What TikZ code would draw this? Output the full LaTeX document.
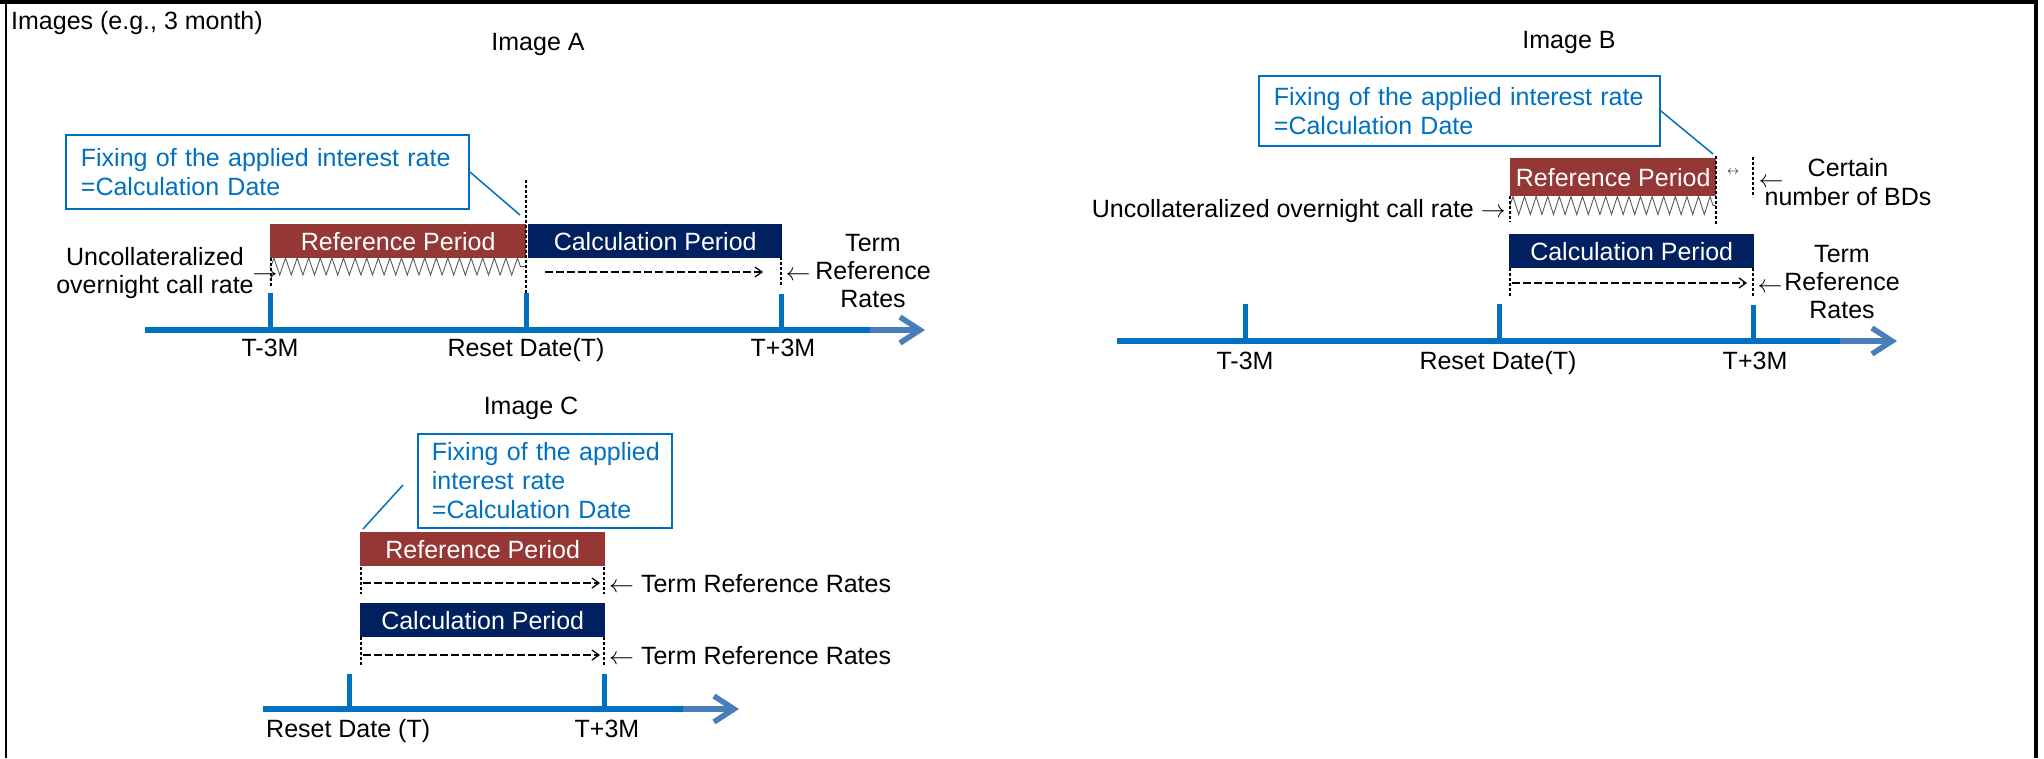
\documentclass[tikz,border=0pt]{standalone}
\usepackage{fontspec}
\setmainfont{Liberation Sans}
\usetikzlibrary{arrows.meta,decorations.pathmorphing}
\definecolor{refred}{RGB}{149,55,53}
\definecolor{calnavy}{RGB}{0,32,96}
\definecolor{fixblue}{RGB}{0,112,192}
\definecolor{axisblue}{RGB}{0,112,192}
\definecolor{headblue}{RGB}{74,126,187}
\definecolor{zigzaggray}{RGB}{90,90,90}
\begin{document}
\begin{tikzpicture}[x=1pt,y=-1pt,
  every node/.style={font=\fontsize{25}{28}\selectfont, inner sep=0pt},
  lbl/.style={anchor=base, text=black},
  period/.style={minimum height=34pt, text=white, anchor=north west, inner sep=0pt},
  refbox/.style={period, fill=refred},
  calbox/.style={period, fill=calnavy},
  callout/.style={draw=fixblue, line width=1.8pt, text=fixblue, align=left, anchor=north west, inner xsep=15pt, inner ysep=0pt, font=\fontsize{25}{29}\selectfont},
  leader/.style={draw=fixblue, line width=1.5pt},
  vdash/.style={draw=black, line width=1.5pt, dash pattern=on 3pt off 2pt},
  harrow/.style={draw=black, line width=1.3pt, dash pattern=on 8pt off 3pt, -{Straight Barb[length=7pt,width=10pt]}},
  zz/.style={draw=zigzaggray, line width=0.9pt, decorate, decoration={zigzag, segment length=11.6pt, amplitude=8.5pt}},
  axisline/.style={draw=axisblue, line width=5.5pt},
  axishead/.style={draw=headblue, line width=5.5pt, -{Straight Barb[length=20pt,width=26pt]}},
  tickmark/.style={draw=axisblue, line width=5pt}
]
\useasboundingbox (0,0) rectangle (2044,758);
% frame
\draw[line width=3.5pt] (0,2) -- (2038,2);
\draw[line width=2.2pt] (5.6,0) -- (5.6,758);
\draw[line width=4pt] (2036,0) -- (2036,758);
\draw[line width=2pt] (344.5,0) -- (344.5,3);
\draw[line width=2pt] (1021,0) -- (1021,3);

\node[lbl, anchor=base west] (imgs) at (11,29) {Images (e.g., 3 month)};

% ---------------- Image A
\node[lbl] (titleA) at (538,50) {Image A};
\node[callout, text width=373pt, minimum height=74pt] (fixA) at (65,134) {Fixing of the applied interest rate\\=Calculation Date};
\coordinate (fixAend) at (520,215);
\draw[leader] (fixA.east) -- (fixAend);
\node[refbox, minimum width=256pt] (refA) at (270,224) {Reference Period};
\node[calbox, minimum width=254pt] (calA) at (528,224) {Calculation Period};
\draw[zz] (271,266.5) -- (526,266.5);
\draw[vdash] (526,180) -- (526,293);
\draw[vdash] (271,258) -- (271,287);
\draw[harrow] (545,272) -- (763,272);
\draw[vdash] (781,257) -- (781,287);
\node[lbl] (larA) at (798,280) {$\leftarrow$};
\node[align=center] (termA) at (873,271) {Term\\Reference\\Rates};
\node[align=center] (uncA) at (155,272.7) {Uncollateralized\\overnight call rate};
\node[lbl] (rarA) at (265,280) {$\rightarrow$};
\draw[axisline] (145,330) -- (870,330);
\draw[axishead] (870,330) -- (925,330);
\draw[tickmark] (270.5,293) -- (270.5,328);
\draw[tickmark] (526,293) -- (526,328);
\draw[tickmark] (781,294) -- (781,328);
\node[lbl] (tA1) at (270,356) {T-3M};
\node[lbl] (tA2) at (526,356) {Reset Date(T)};
\node[lbl] (tA3) at (783,356) {T+3M};

% ---------------- Image B
\node[lbl] (titleB) at (1569,48) {Image B};
\node[callout, text width=371pt, minimum height=70pt] (fixB) at (1258,75) {Fixing of the applied interest rate\\=Calculation Date};
\coordinate (fixBend) at (1713,154);
\draw[leader] (fixB.east) -- (fixBend);
\node[refbox, minimum width=206pt, minimum height=38pt] (refB) at (1510,158) {Reference Period};
\draw[zz, decoration={amplitude=9pt}] (1510,205.5) -- (1716,205.5);
\draw[vdash] (1716,156) -- (1716,225);
\draw[vdash] (1510,196) -- (1510,222);
\node[lbl, font=\fontsize{12}{14}\selectfont] (dblB) at (1733,174) {$\leftrightarrow$};
\draw[vdash] (1753,157) -- (1753,197);
\node[lbl] (larB1) at (1771,187) {$\leftarrow$};
\node[lbl] (certB1) at (1848,176) {Certain};
\node[lbl] (certB2) at (1848,205) {number of BDs};
\begin{scope}
\clip (1050,150) rectangle (1509,222);
\node[lbl, anchor=base east] (uncB) at (1506,217) {Uncollateralized overnight call rate $\rightarrow$};
\end{scope}
\node[calbox, minimum width=245pt] (calB) at (1509,234) {Calculation Period};
\draw[vdash] (1510,268) -- (1510,297);
\draw[vdash] (1753,268) -- (1753,297);
\draw[harrow] (1512,283) -- (1747,283);
\node[lbl] (larB2) at (1770,292) {$\leftarrow$};
\node[align=center] (termB) at (1842,281.6) {Term\\Reference\\Rates};
\draw[axisline] (1117,341) -- (1840,341);
\draw[axishead] (1840,341) -- (1897,341);
\draw[tickmark] (1245,304) -- (1245,338);
\draw[tickmark] (1499,304) -- (1499,338);
\draw[tickmark] (1753,305) -- (1753,338);
\node[lbl] (tB1) at (1245,369) {T-3M};
\node[lbl] (tB2) at (1498,369) {Reset Date(T)};
\node[lbl] (tB3) at (1755,369) {T+3M};

% ---------------- Image C
\node[lbl] (titleC) at (531,414) {Image C};
\node[callout, text width=226pt, inner xsep=14pt, minimum height=94pt] (fixC) at (417,433) {\mbox{Fixing of the applied}\\\mbox{interest rate}\\\mbox{=Calculation Date}};
\coordinate (fixCstart) at (403,485);
\coordinate (fixCend) at (363,529);
\draw[leader] (fixCstart) -- (fixCend);
\node[refbox, minimum width=245pt] (refC) at (360,532) {Reference Period};
\draw[vdash] (361,567) -- (361,594);
\draw[vdash] (604,567) -- (604,594);
\draw[harrow] (363,583) -- (600,583);
\node[lbl, anchor=base west] (termC1) at (609,592) {$\leftarrow$ Term Reference Rates};
\node[calbox, minimum width=245pt] (calC) at (360,603) {Calculation Period};
\draw[vdash] (361,637) -- (361,665);
\draw[vdash] (604,637) -- (604,665);
\draw[harrow] (363,655) -- (600,655);
\node[lbl, anchor=base west] (termC2) at (609,664) {$\leftarrow$ Term Reference Rates};
\draw[axisline] (263,709) -- (683,709);
\draw[axishead] (683,709) -- (739,709);
\draw[tickmark] (349,674) -- (349,707);
\draw[tickmark] (604,674) -- (604,707);
\node[lbl, anchor=base west] (tC1) at (266,737) {Reset Date (T)};
\node[lbl] (tC2) at (607,737) {T+3M};
\end{tikzpicture}
\end{document}
